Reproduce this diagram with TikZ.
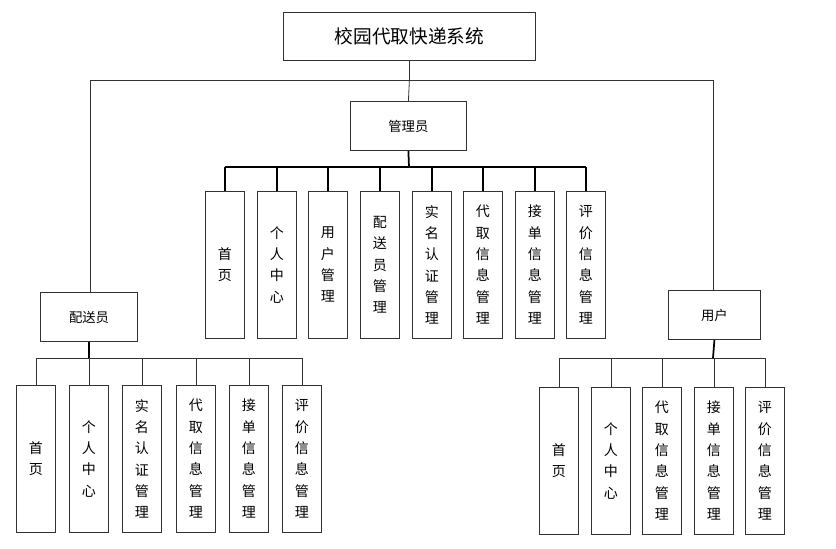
\documentclass[tikz,border=0pt]{standalone}
\usepackage{fontspec}
\setmainfont{Noto Sans CJK SC}
\begin{document}
\begin{tikzpicture}[x=0.75pt,y=-0.75pt,
 box/.style={draw=black!80,line width=0.6pt,inner sep=0,anchor=north west},
 ln/.style={draw=black!80,line width=0.6pt},
 bl/.style={draw=black,line width=1.3pt}]
\useasboundingbox (0,0) rectangle (836,549);
\newcommand{\bx}[6]{\node[box,minimum width=#4*0.75pt,minimum height=#5*0.75pt,align=center,font=\fontsize{#6}{#6}\selectfont] (#1) at (#2,#3) {};}
\node[box,minimum width=189pt,minimum height=36pt,font=\fontsize{14}{16}\selectfont] (top) at (283,12) {校园代取快递系统};
\node[box,minimum width=87pt,minimum height=37pt,font=\fontsize{10}{12}\selectfont] (adm) at (350,101) {管理员};
\node[box,minimum width=73pt,minimum height=37pt,font=\fontsize{10}{12}\selectfont] (del) at (40,292) {配送员};
\node[box,minimum width=69pt,minimum height=37pt,font=\fontsize{10}{12}\selectfont] (usr) at (668,290) {用户};
\coordinate (jl) at (90,80); \coordinate (jr) at (713,80);
\draw[ln] (top.south) -- (top.south|-jl);
\draw[ln] (jl) -- (jr);
\draw[ln] (top.south|-jl) -- (adm.north);
\draw[ln] (jl) -- (jl|-del.north);
\draw[ln] (jr) -- (jr|-usr.north);
\tikzset{ch/.style={box,minimum width=29.25pt,minimum height=110pt,align=center,font=\fontsize{10.5}{16}\selectfont}}
% admin
\foreach \i/\x/\t in {1/205/首\\页,2/257/个\\人\\中\\心,3/308/用\\户\\管\\理,4/360/配\\送\\员\\管\\理,5/412/实\\名\\认\\证\\管\\理,6/463/代\\取\\信\\息\\管\\理,7/515/接\\单\\信\\息\\管\\理,8/566/评\\价\\信\\息\\管\\理}
 {\node[ch] (a\i) at (\x,191) {\t};}
\coordinate (ab) at (409,167);
\draw[bl] (adm.south) -- (ab);
\draw[bl] (a1.north|-ab) -- (a8.north|-ab);
\foreach \i in {1,...,8} \draw[bl] (a\i.north|-ab) -- (a\i.north);
% deliverer
\foreach \i/\x/\t in {1/16/首\\页,2/69/个\\人\\中\\心,3/122/实\\名\\认\\证\\管\\理,4/176/代\\取\\信\\息\\管\\理,5/229/接\\单\\信\\息\\管\\理,6/282/评\\价\\信\\息\\管\\理}
 {\node[ch] (d\i) at (\x,385) {\t};}
\coordinate (db) at (89,358);
\draw[bl] (del.south) -- (db);
\draw[ln] (d1.north|-db) -- (d6.north|-db);
\foreach \i in {1,...,6} \draw[ln] (d\i.north|-db) -- (d\i.north);
% user
\foreach \i/\x/\t in {1/539/首\\页,2/591/个\\人\\中\\心,3/642/代\\取\\信\\息\\管\\理,4/694/接\\单\\信\\息\\管\\理,5/745/评\\价\\信\\息\\管\\理}
 {\node[ch] (u\i) at (\x,387) {\t};}
\coordinate (ub) at (713,358);
\draw[bl] (usr.south) -- (ub);
\draw[ln] (u1.north|-ub) -- (u5.north|-ub);
\foreach \i in {1,...,5} \draw[ln] (u\i.north|-ub) -- (u\i.north);
\end{tikzpicture}
\end{document}
